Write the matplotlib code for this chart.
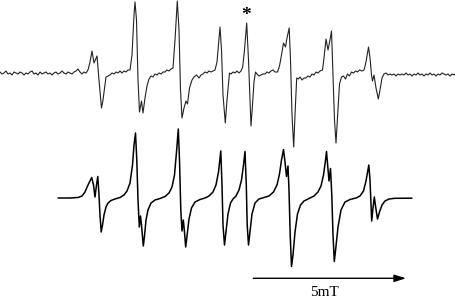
import matplotlib
matplotlib.use("Agg")
import matplotlib.pyplot as plt

# ---- Experimental spectrum (top): field (arb. units) and signal (arb. units) ----
exp_field = [
    0, 2, 4, 6, 8, 10, 12, 14, 16, 18, 20, 22, 24, 26, 28, 30, 32, 34, 36, 38, 40, 42,
    44, 46, 48, 50, 52, 54, 56, 58, 60, 62, 64, 66, 68, 70, 72, 74, 76, 78, 80, 82, 84, 86,
    88, 90, 92, 94, 97, 99, 101.5, 103, 106, 108, 110, 112, 114, 116, 118, 120, 122, 124, 126, 128, 130,
    132, 134, 135, 136.5, 138, 139.5, 141.5, 143, 145, 147, 149, 151, 153, 155, 157, 159, 161, 163, 165, 167, 169, 171, 173,
    175, 177.3, 179, 180.5, 182, 184, 186, 187.5, 189.5, 192, 194, 196.5, 199, 201, 203, 205, 207, 209, 211, 213, 215,
    217, 218.5, 220, 221.5, 223, 225.3, 227, 229.5, 231, 233, 235, 237, 239, 241,
    242.7, 244.5, 246.7, 248.5, 250, 251, 252.5, 254, 255.5, 257, 259, 261, 263, 265, 267, 269, 271, 273, 275, 277.5,
    279.5, 281.5, 283.5, 285.5, 287, 289.2, 290.5, 292, 293.7, 295, 296.7, 298.5, 300, 302, 304, 306, 308, 310, 312, 314, 316, 318, 320, 322.5,
    324, 326, 328, 330, 331.5, 333, 334.5, 336, 337.5, 339.5, 341.5, 343.5, 345.5, 347.5, 349.5, 351.5, 353.5, 355.5, 357.5, 359.5, 362, 364,
    366, 368.5, 370, 371.5, 372.5, 374, 376, 378.3, 380, 382, 384,
    386, 388, 390, 392, 394, 396, 398, 400, 402, 404, 406, 408, 410, 412, 414, 416, 418, 420,
    422, 424, 426, 428, 430, 432, 434, 436, 438, 440, 442, 444, 446, 448, 450, 452, 454, 456,
]
exp_signal = [
    1, -1, 0, 2, -1, 0, -2, 1, 0, -1, 1, 0, -2, 0, -1, 1, 2, -1, 0, -2, 1, -1,
    0, 1, -1, 0, -2, 0, 1, -1, 0, 2, 0, -1, 1, 0, -1, 1, 2, 4, 1, -1, 1, 0,
    3, 11, 22, 10, 17, -7, -35, -27, -4, -3, -2, 0, -1, 1, 0, 2, 0, 2, 1, 3, 3,
    18, 58, 71, 53, -7, -39, -28, -40, -25, -13, -6, -3, -4, -1, -2, 0, -1, 1, 1, 3, 2, 4, 5,
    33, 72, 43, -17, -45, -35, -28, -31, -15, -7, -4, -2, -5, -2, -1, 1, 0, 2, 1, 2, 3,
    11, 28, 46, 23, -22, -50, -27, 0, -1, 1, 0, 2, 0, 2,
    6, 23, 50, 13, -27, -53, -32, -9, 1, -1, -3, -2, -1, -1, 1, 0, 2, 3, 1, 1,
    7, 18, 30, 26, 35, 45, 13, -42, -74, -42, -5, -6, -4, -7, -5, -5, -3, -4, -1, -2, 1, 0, 2, 3,
    15, 34, 23, 33, 42, -2, -47, -70, -45, -11, -4, -3, -6, -1, -3, 1, 0, 2, 1, 3, 2, 3,
    11, 26, 15, -2, -8, -2, -15, -26, -17, -5, -1,
    0, -2, -1, -2, -1, -3, -1, -2, -1, -2, 0, -2, -1, -3, -1, -2, 0, -2,
    -1, -3, -1, -2, 0, -2, -1, -3, -1, -2, 0, -1, -2, -1, -3, -1, -2, 0,
]

# ---- Simulated spectrum (bottom) ----
sim_field = [
    58.3, 70, 78, 82, 85, 88, 91.7, 93.5, 95, 96.5, 97.8, 99, 100, 101.2, 102.5, 104,
    106, 108, 111, 115, 120, 124, 127, 130, 132.5, 134, 135.5, 136.8, 138, 139.3, 140.5,
    141.5, 143.3, 144.5, 146, 148, 151, 155, 160, 165, 169, 172, 174.5, 176.5, 178.3,
    179.5, 180.8, 182, 183.3, 184.3, 185.7, 187, 189, 191.5, 195, 200, 205, 209, 213,
    216, 218.5, 220.8, 222, 223, 224.5, 226, 228, 230.5, 233, 236, 239, 241.5, 243.5,
    245, 246.3, 247.2, 248.5, 250, 252, 255, 259, 264, 269, 273.5, 277, 279.5, 281.5,
    283.5, 285, 286.5, 288, 289, 290.2, 291.5, 293, 295, 297.5, 300.5, 304, 309, 314,
    318, 321, 323.5, 325.3, 326.5, 328, 329, 330.5, 331.8, 333, 334.3, 335.8, 338, 341,
    345, 350, 356, 360, 363.5, 366, 368.8, 370, 371.7, 373, 374.3, 375.8, 377.5, 379.5,
    382, 385, 389, 395, 405, 411.7,
]
sim_signal = [
    0, 0, 0.5, 2, 6, 13, 20.5, 13, 1, 13, 21.5, 3, -17, -34, -27, -17,
    -9, -5, -2.5, -1, 0.5, 3, 7, 15, 33, 53, 65, 38, -2, -29, -18,
    -27, -48, -38, -22, -12, -5, -2, -0.5, 1.5, 5, 11, 23, 46, 69,
    38, -12, -33, -22, -32, -49, -38, -21, -10, -4, -1.5, 0, 2, 6,
    13, 26, 47, 13, -27, -47, -34, -16, -5, -1, 2, 8, 18, 33,
    46.5, 13, -27, -47, -34, -16, -5, -1, 0.5, 2, 6, 13, 24, 38,
    48.5, 36, 21.5, 32, 8, -37, -68.5, -57, -34, -16, -7, -3, -0.5, 2,
    6, 12, 23, 36, 46.5, 28, 17, 29.5, 3, -37, -63.5, -50, -29, -12,
    -4, -1.5, 0, 2, 7, 17, 33, 18, -23, -10, 1, -10, -21, -14,
    -7, -3, -1, -0.3, -0.2, -0.2,
]

scale_label = "5mT"
marker_label = "*"

W, H = 456, 299
fig = plt.figure(figsize=(W / 100, H / 100), dpi=100)
ax = fig.add_axes([0, 0, 1, 1])
ax.set_xlim(0, W)
ax.set_ylim(0, H)
ax.axis("off")

top_base = 226
bot_base = 101

ax.plot(exp_field, [top_base + v for v in exp_signal], color="#222222", lw=0.8,
        solid_joinstyle="round")
ax.plot(sim_field, [bot_base + v for v in sim_signal], color="black", lw=1.1,
        solid_joinstyle="round")

ax.annotate("", xy=(406, 20.7), xytext=(253.3, 20.7),
            arrowprops=dict(arrowstyle="-|>,head_length=0.7,head_width=0.22",
                            color="black", lw=1.0, shrinkA=0, shrinkB=0))
ax.text(324, 2.6, scale_label, ha="center", va="baseline", fontsize=11,
        family="Liberation Serif", color="black")
ax.text(246.5, 279.0, marker_label, ha="center", va="baseline", fontsize=14,
        family="Liberation Serif", weight="bold", color="black")

fig.savefig("out.png", dpi=100)
